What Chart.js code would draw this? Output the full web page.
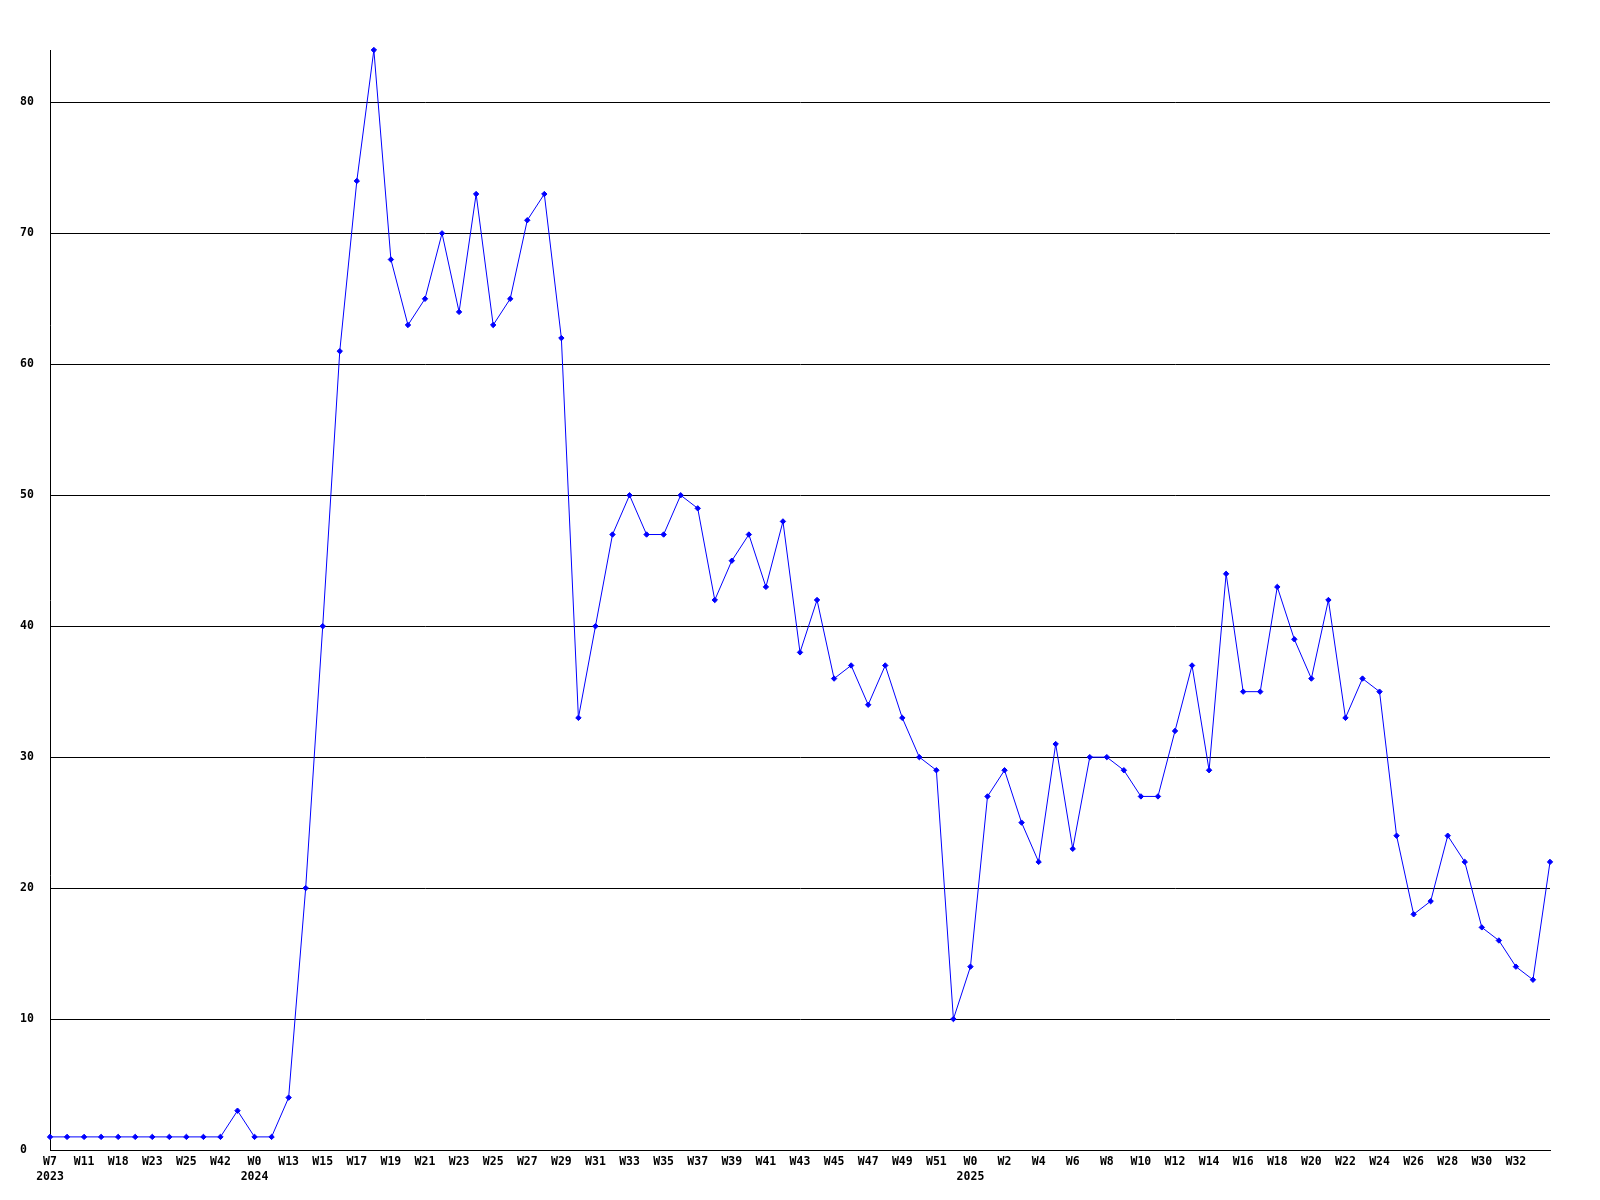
<!DOCTYPE html>
<html>
<head>
<meta charset="utf-8">
<script src="https://cdn.jsdelivr.net/npm/chart.js@4.4.1/dist/chart.umd.min.js"></script>
<style>
  html, body { margin: 0; padding: 0; background: #fff; }
  #wrap { width: 1600px; height: 1200px; }
</style>
</head>
<body>
<div id="wrap"><canvas id="grafico"></canvas></div>
<script>
// Datos
const semanas = [
  'W7','W9','W11','W14','W18','W20','W23','W24','W25','W33','W42','W47',
  'W0','W12','W13','W14','W15','W16','W17','W18','W19','W20','W21','W22','W23','W24','W25','W26',
  'W27','W28','W29','W30','W31','W32','W33','W34','W35','W36','W37','W38','W39','W40','W41','W42',
  'W43','W44','W45','W46','W47','W48','W49','W50','W51','W52',
  'W0','W1','W2','W3','W4','W5','W6','W7','W8','W9','W10','W11','W12','W13','W14','W15','W16','W17',
  'W18','W19','W20','W21','W22','W23','W24','W25','W26','W27','W28','W29','W30','W31','W32','W33','W34'
];
const anios = [
  2023,2023,2023,2023,2023,2023,2023,2023,2023,2023,2023,2023,
  2024,2024,2024,2024,2024,2024,2024,2024,2024,2024,2024,2024,2024,2024,2024,2024,
  2024,2024,2024,2024,2024,2024,2024,2024,2024,2024,2024,2024,2024,2024,2024,2024,
  2024,2024,2024,2024,2024,2024,2024,2024,2024,2024,
  2025,2025,2025,2025,2025,2025,2025,2025,2025,2025,2025,2025,2025,2025,2025,2025,2025,2025,
  2025,2025,2025,2025,2025,2025,2025,2025,2025,2025,2025,2025,2025,2025,2025,2025,2025
];
const cantidades = [
  1,1,1,1,1,1,1,1,1,1,1,3,
  1,1,4,20,40,61,74,84,68,63,65,70,64,73,63,65,
  71,73,62,33,40,47,50,47,47,50,49,42,45,47,43,48,
  38,42,36,37,34,37,33,30,29,10,
  14,27,29,25,22,31,23,30,30,29,27,27,32,37,29,44,35,35,
  43,39,36,42,33,36,35,24,18,19,24,22,17,16,14,13,22
];
const marcasY = [0,10,20,30,40,50,60,70,80];

const fuente = { family: '"DejaVu Sans Mono", monospace', size: 11.5, weight: 'bold', lineHeight: 1.3 };

const caracteristicas = {
  type: 'line',
  data: {
    labels: semanas,
    datasets: [{
      data: cantidades,
      borderColor: '#0000ff',
      backgroundColor: '#0000ff',
      borderWidth: 1,
      tension: 0,
      pointStyle: 'rectRot',
      pointRadius: 2.7,
      pointBorderWidth: 1,
      clip: false
    }]
  },
  options: {
    responsive: false,
    animation: false,
    devicePixelRatio: 1,
    layout: { padding: { left: 20, top: 50, right: 50, bottom: 0 } },
    plugins: { legend: { display: false }, tooltip: { enabled: false } },
    scales: {
      x: {
        offset: false,
        grid: { display: false, drawTicks: false },
        border: { display: true, color: '#000', width: 1 },
        ticks: {
          autoSkip: false,
          maxRotation: 0,
          minRotation: 0,
          padding: 5,
          color: '#000',
          font: fuente,
          callback: function (valor, i) {
            // una etiqueta cada dos semanas, la ultima sin etiqueta
            if (i % 2 !== 0 || i === semanas.length - 1) return '';
            if (i === 0 || anios[i] !== anios[i - 1]) return [semanas[i], String(anios[i])];
            return semanas[i];
          }
        },
        afterFit: function (escala) { escala.height = 50; }
      },
      y: {
        min: 0,
        max: 84,
        grid: { color: '#000', lineWidth: 1, drawTicks: false },
        border: { display: true, color: '#000', width: 1 },
        ticks: {
          color: '#000',
          font: fuente,
          crossAlign: 'far',
          padding: 0
        },
        afterBuildTicks: function (escala) {
          escala.ticks = marcasY.map(v => ({ value: v }));
        },
        afterFit: function (escala) { escala.width = 30; }
      }
    }
  }
};

const lienzo = document.getElementById('grafico');
lienzo.width = 1600;
lienzo.height = 1200;
const myChart = new Chart(lienzo, caracteristicas);
</script>
</body>
</html>
